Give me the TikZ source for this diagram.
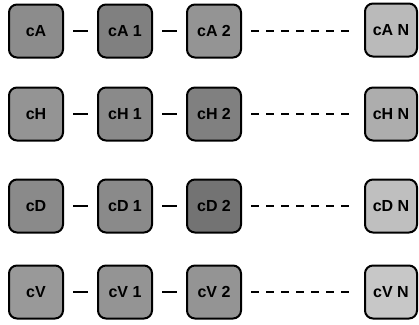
\documentclass[tikz,border=0pt]{standalone}
\usepackage{fontspec}
\setmainfont{Liberation Sans}
\begin{document}
\begin{tikzpicture}[x=1pt,y=-1pt,
  cell/.style={draw=black, line width=2pt, rounded corners=8pt,
    minimum width=54pt, minimum height=53pt, inner sep=0pt,
    font=\fontsize{16}{16}\selectfont\bfseries, fill=black!#1},
  cell/.default=45,
  link/.style={line width=2pt, shorten <=9pt, shorten >=9pt},
  dots/.style={line width=2pt, dash pattern=on 8pt off 7pt,
    shorten <=9pt, shorten >=14pt}]
\useasboundingbox (0,0) rectangle (419,324);

% row A
\node[cell=45] (a0) at (36,31) {cA};
\node[cell=50] (a1) at (125,31) {cA 1};
\node[cell=42] (a2) at (214,31) {cA 2};
\node[cell=27, minimum width=52pt] (an) at (391,30) {cA N};
% row H
\node[cell=42] (h0) at (36,114) {cH};
\node[cell=46] (h1) at (125,114) {cH 1};
\node[cell=50] (h2) at (214,114) {cH 2};
\node[cell=32, minimum width=52pt] (hn) at (391,114) {cH N};
% row D
\node[cell=46] (d0) at (36,206) {cD};
\node[cell=46] (d1) at (125,206) {cD 1};
\node[cell=55] (d2) at (214,206) {cD 2};
\node[cell=25, minimum width=52pt] (dn) at (391,206) {cD N};
% row V
\node[cell=40] (v0) at (36,292) {cV};
\node[cell=42] (v1) at (125,292) {cV 1};
\node[cell=42] (v2) at (214,292) {cV 2};
\node[cell=22, minimum width=52pt] (vn) at (391,292) {cV N};

% chains
\foreach \r in {a,h,d,v}{
  \draw[link] (\r0) -- (\r1);
  \draw[link] (\r1) -- (\r2);
  \draw[dots] (\r2) -- (\r2 -| \r n.west);
}
\end{tikzpicture}
\end{document}
